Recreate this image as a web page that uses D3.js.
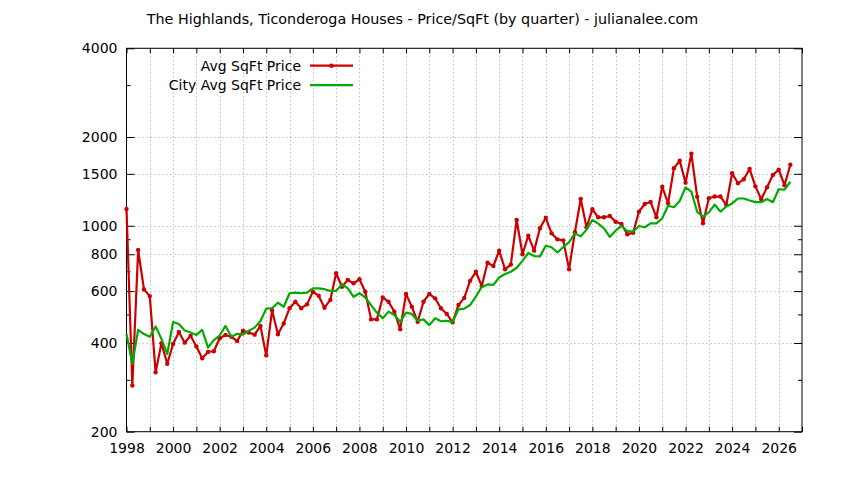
<!DOCTYPE html>
<html>
<head>
<meta charset="utf-8">
<script src="https://cdn.jsdelivr.net/npm/d3@7"></script>
<style>
  html, body { margin: 0; padding: 0; background: #fff; }
  svg { display: block; }
  text { font-family: "DejaVu Sans", sans-serif; font-size: 14px; fill: #000; }
</style>
</head>
<body>
<svg id="chart" width="844" height="480"></svg>
<script>
// ---- Data (quarterly, starting 1998 Q1) ----
const startYear = 1998;
const avgPrice = [
  1140, 287, 827, 608, 577, 318, 399, 340, 397, 436, 401, 423, 389, 355, 373, 375,
  415, 426, 420, 406, 440, 434, 427, 457, 363, 517, 428, 466, 525, 552, 525, 541,
  597, 579, 527, 560, 690, 621, 654, 638, 658, 597, 481, 481, 571, 552, 511, 445,
  587, 531, 472, 552, 587, 567, 525, 502, 470, 538, 569, 650, 698, 624, 749, 730,
  823, 711, 738, 1046, 800, 925, 823, 980, 1064, 942, 899, 892, 711, 950, 1232, 988,
  1137, 1068, 1068, 1079, 1032, 1013, 935, 947, 1116, 1185, 1204, 1068, 1356, 1192, 1566, 1663,
  1400, 1755, 1255, 1019, 1239, 1256, 1256, 1176, 1506, 1393, 1437, 1558, 1360, 1230, 1350, 1486,
  1550, 1372, 1610
];
const cityAvgPrice = [
  429, 340, 443, 429, 420, 455, 413, 367, 471, 464, 441, 434, 426, 443, 386, 409,
  424, 457, 420, 430, 427, 440, 451, 475, 523, 525, 548, 531, 590, 593, 590, 593,
  613, 613, 609, 601, 601, 633, 613, 574, 590, 571, 538, 507, 485, 511, 498, 472,
  507, 502, 476, 481, 460, 485, 474, 476, 471, 520, 523, 538, 575, 620, 632, 630,
  667, 686, 698, 720, 760, 808, 789, 787, 855, 845, 811, 847, 880, 942, 920, 970,
  1046, 1016, 980, 917, 962, 998, 959, 955, 998, 988, 1019, 1019, 1060, 1169, 1155, 1213,
  1350, 1305, 1115, 1073, 1110, 1180, 1116, 1162, 1190, 1237, 1237, 1218, 1202, 1202, 1232, 1202,
  1330, 1325, 1410
];
const yLabelTicks = [200, 400, 600, 800, 1000, 1500, 2000, 4000];
const yMinorTicks = [300, 500, 700, 900, 3000];
const xLabelYears = [1998, 2000, 2002, 2004, 2006, 2008, 2010, 2012, 2014, 2016, 2018, 2020, 2022, 2024, 2026];
const xDomain = [1998, 2027];
const yDomain = [200, 4000];
const titleText = "The Highlands, Ticonderoga Houses - Price/SqFt (by quarter) - julianalee.com";
const seriesNames = ["Avg SqFt Price", "City Avg SqFt Price"];

(function () {
// ---- Layout ----
const pLeft = 126.5, pRight = 802, pTop = 48.3, pBottom = 431.7;
const redColor = "#cc0000", greenColor = "#00aa00";

const svg = d3.select("#chart");
const x = d3.scaleLinear().domain(xDomain).range([pLeft, pRight]);
const y = d3.scaleLog().domain(yDomain).range([pBottom, pTop]);

const avgData = avgPrice.map((v, i) => ({ t: startYear + i / 4, v }));
const cityData = cityAvgPrice.map((v, i) => ({ t: startYear + i / 4, v }));

// Title
svg.append("text").attr("x", 422.5).attr("y", 24).attr("text-anchor", "middle")
  .style("font-size", "14.3px").text(titleText);

// Grid
const yearTicks = d3.range(xDomain[0] + 1, xDomain[1]);
const grid = svg.append("g").attr("stroke", "#a0a0a0").attr("stroke-width", 1).attr("stroke-dasharray", "1,3");
grid.selectAll("line.v").data(yearTicks).join("line")
  .attr("x1", d => Math.round(x(d)) + 0.5).attr("x2", d => Math.round(x(d)) + 0.5)
  .attr("y1", pTop).attr("y2", pBottom);
grid.selectAll("line.h").data(yLabelTicks.filter(d => d > yDomain[0] && d < yDomain[1])).join("line")
  .attr("x1", pLeft).attr("x2", pRight)
  .attr("y1", d => Math.round(y(d)) + 0.5).attr("y2", d => Math.round(y(d)) + 0.5);

// Axes
const allYears = d3.range(xDomain[0], xDomain[1] + 1);
const fmtX = d => xLabelYears.includes(d) ? String(d) : "";
const bottomAxis = d3.axisBottom(x).tickValues(allYears).tickFormat(fmtX).tickSizeInner(-5).tickSizeOuter(0).tickPadding(11);
const topAxis = d3.axisTop(x).tickValues(allYears).tickFormat("").tickSizeInner(-5).tickSizeOuter(0);
const leftAxis = d3.axisLeft(y).tickValues(yLabelTicks).tickFormat(d3.format("d")).tickSizeInner(-8).tickSizeOuter(0).tickPadding(9);
const leftMinor = d3.axisLeft(y).tickValues(yMinorTicks).tickFormat("").tickSizeInner(-4).tickSizeOuter(0);
const rightAxis = d3.axisRight(y).tickValues(yLabelTicks).tickFormat("").tickSizeInner(-8).tickSizeOuter(0);
const rightMinor = d3.axisRight(y).tickValues(yMinorTicks).tickFormat("").tickSizeInner(-4).tickSizeOuter(0);

function styleAxis(g) {
  g.select(".domain").remove();
  g.selectAll(".tick line").attr("stroke", "#000");
  g.selectAll(".tick text").attr("font-family", "DejaVu Sans").attr("font-size", 14).attr("fill", "#000");
}
svg.append("g").attr("transform", `translate(0,${pBottom})`).call(bottomAxis).call(styleAxis);
svg.append("g").attr("transform", `translate(0,${pTop})`).call(topAxis).call(styleAxis);
svg.append("g").attr("transform", `translate(${pLeft},0)`).call(leftAxis).call(styleAxis);
svg.append("g").attr("transform", `translate(${pLeft},0)`).call(leftMinor).call(styleAxis);
svg.append("g").attr("transform", `translate(${pRight},0)`).call(rightAxis).call(styleAxis);
svg.append("g").attr("transform", `translate(${pRight},0)`).call(rightMinor).call(styleAxis);

// Border
svg.append("rect").attr("x", pLeft).attr("y", pTop).attr("width", pRight - pLeft).attr("height", pBottom - pTop)
  .attr("fill", "none").attr("stroke", "#000").attr("stroke-width", 1);

// Lines
const line = d3.line().x(d => x(d.t)).y(d => y(d.v));
svg.append("path").datum(avgData).attr("d", line).attr("fill", "none")
  .attr("stroke", redColor).attr("stroke-width", 2.2).attr("stroke-linejoin", "round");
svg.append("g").selectAll("circle").data(avgData).join("circle")
  .attr("cx", d => x(d.t)).attr("cy", d => y(d.v)).attr("r", 2.2).attr("fill", redColor);
svg.append("path").datum(cityData).attr("d", line).attr("fill", "none")
  .attr("stroke", greenColor).attr("stroke-width", 2.2).attr("stroke-linejoin", "round");

// Legend
const legend = svg.append("g");
const legY = [65.7, 85.2];
legend.selectAll("text").data(seriesNames).join("text")
  .attr("x", 301).attr("y", (d, i) => legY[i] + 5).attr("text-anchor", "end").text(d => d);
legend.append("line").attr("x1", 310).attr("x2", 353).attr("y1", legY[0]).attr("y2", legY[0])
  .attr("stroke", redColor).attr("stroke-width", 2.2);
legend.append("circle").attr("cx", 331.5).attr("cy", legY[0]).attr("r", 2.2).attr("fill", redColor);
legend.append("line").attr("x1", 310).attr("x2", 353).attr("y1", legY[1]).attr("y2", legY[1])
  .attr("stroke", greenColor).attr("stroke-width", 2.2);
})();
</script>
</body>
</html>
